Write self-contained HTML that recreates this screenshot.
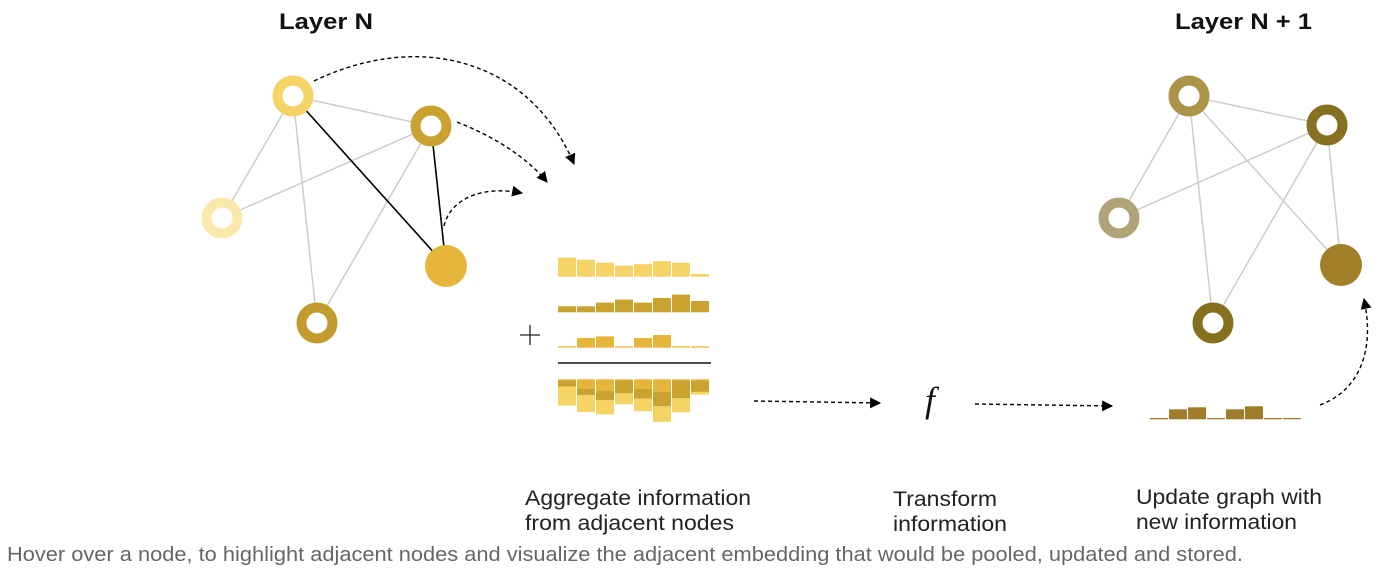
<!DOCTYPE html>
<html><head><meta charset="utf-8"><style>
html,body{margin:0;padding:0;background:#fff;width:1382px;height:576px;overflow:hidden}
svg{display:block}
</style></head><body>
<svg width="1382" height="576" viewBox="0 0 1382 576" xmlns="http://www.w3.org/2000/svg" font-family="Liberation Sans, sans-serif">
<defs>
<marker id="ah" viewBox="0 0 10 10" refX="9" refY="5" markerWidth="11" markerHeight="11" markerUnits="userSpaceOnUse" orient="auto"><path d="M0,0L10,5L0,10z" fill="#000"/></marker>
</defs>
<text x="279" y="29" font-size="22" font-weight="bold" fill="#111" textLength="94" lengthAdjust="spacingAndGlyphs">Layer N</text>
<text x="1175" y="29" font-size="22" font-weight="bold" fill="#111" textLength="137" lengthAdjust="spacingAndGlyphs">Layer N + 1</text>

<g stroke="#ccc" stroke-width="1.5" fill="none">
<line x1="293" y1="96" x2="431" y2="126"/>
<line x1="293" y1="96" x2="222" y2="218"/>
<line x1="293" y1="96" x2="317" y2="323"/>
<line x1="222" y1="218" x2="431" y2="126"/>
<line x1="317" y1="323" x2="431" y2="126"/>
</g>
<g stroke="#000" stroke-width="1.6">
<line x1="293" y1="96" x2="446" y2="266"/>
<line x1="431" y1="126" x2="446" y2="266"/>
</g>
<g stroke-width="10" fill="#fff">
<circle cx="293" cy="96" r="15.5" stroke="#f5d365"/>
<circle cx="431" cy="126" r="15.5" stroke="#c9a22f"/>
<circle cx="222" cy="218" r="15.5" stroke="#fbe9ab"/>
<circle cx="317" cy="323" r="15.5" stroke="#c39c2f"/>
</g>
<circle cx="446" cy="266" r="21" fill="#e6b63a"/>

<g stroke="#ccc" stroke-width="1.5" fill="none">
<line x1="1189" y1="96" x2="1327" y2="125"/>
<line x1="1189" y1="96" x2="1119" y2="218"/>
<line x1="1189" y1="96" x2="1213" y2="323"/>
<line x1="1189" y1="96" x2="1341" y2="265"/>
<line x1="1119" y1="218" x2="1327" y2="125"/>
<line x1="1213" y1="323" x2="1327" y2="125"/>
<line x1="1327" y1="125" x2="1341" y2="265"/>
</g>
<g stroke-width="10" fill="#fff">
<circle cx="1189" cy="96" r="15.5" stroke="#ab9347"/>
<circle cx="1327" cy="125" r="15.5" stroke="#87701f"/>
<circle cx="1119" cy="218" r="15.5" stroke="#b1a378"/>
<circle cx="1213" cy="323" r="15.5" stroke="#86701f"/>
</g>
<circle cx="1341" cy="265" r="21" fill="#a07f28"/>

<g stroke="#000" stroke-width="1.4" stroke-dasharray="4,3" fill="none" marker-end="url(#ah)">
<path d="M314,81 C420,30 530,60 574,164"/>
<path d="M457,122 C490,135 525,155 547,182"/>
<path d="M444,226 C450,200 480,185 522,193"/>
<path d="M754,401 L880,403"/>
<path d="M975,404 L1112,406"/>
<path d="M1320,405 C1360,390 1375,350 1364,299"/>
</g>

<g stroke="#222" stroke-width="1.3"><line x1="520" y1="335" x2="540" y2="335"/><line x1="530" y1="325" x2="530" y2="345"/></g>

<g id="bars"></g>
<line x1="558" y1="363" x2="711" y2="363" stroke="#111" stroke-width="1.6"/>

<text x="925" y="412" style="font-family:'Liberation Serif',serif;font-style:italic" font-size="36" fill="#111">f</text>

<g font-size="21" fill="#222">
<text x="525" y="505" textLength="226" lengthAdjust="spacingAndGlyphs">Aggregate information</text>
<text x="525" y="530" textLength="209" lengthAdjust="spacingAndGlyphs">from adjacent nodes</text>
<text x="893" y="506" textLength="104" lengthAdjust="spacingAndGlyphs">Transform</text>
<text x="893" y="531" textLength="114" lengthAdjust="spacingAndGlyphs">information</text>
<text x="1136" y="504" textLength="186" lengthAdjust="spacingAndGlyphs">Update graph with</text>
<text x="1136" y="529" textLength="161" lengthAdjust="spacingAndGlyphs">new information</text>
</g>
<text x="7" y="561" font-size="20" fill="#666" textLength="1236" lengthAdjust="spacingAndGlyphs">Hover over a node, to highlight adjacent nodes and visualize the adjacent embedding that would be pooled, updated and stored.</text>

<script>
var ns="http://www.w3.org/2000/svg",g=document.getElementById('bars');
function r(x,y,w,h,c){var e=document.createElementNS(ns,'rect');e.setAttribute('x',x);e.setAttribute('y',y);e.setAttribute('width',w);e.setAttribute('height',Math.max(h,1.2));e.setAttribute('fill',c);g.appendChild(e);}
var h1=[19,17,14,11,12.5,15.5,14,2.7],h2=[6,6,9.7,12.7,9.7,14.3,17.7,11.3],h3=[1.3,9.7,11.3,1.3,9.7,12.7,1.3,1.3];
for(var i=0;i<8;i++){var x=558+19*i;
r(x,276.7-h1[i],18,h1[i],'#f5d365');
r(x,312.3-h2[i],18,h2[i],'#c9a22f');
r(x,347.7-h3[i],18,h3[i],'#e6b63a');
var y=379.3;r(x,y,18,h3[i],'#e6b63a');y+=h3[i];r(x,y,18,h2[i],'#c9a22f');y+=h2[i];r(x,y,18,h1[i],'#f5d365');}
var hu=[1.3,10,12,1.3,10,13,1.3,1.3];
for(var i=0;i<8;i++)r(1150+19*i,419.3-hu[i],18,hu[i],'#a07d2a');
</script>
</svg>
</body></html>
